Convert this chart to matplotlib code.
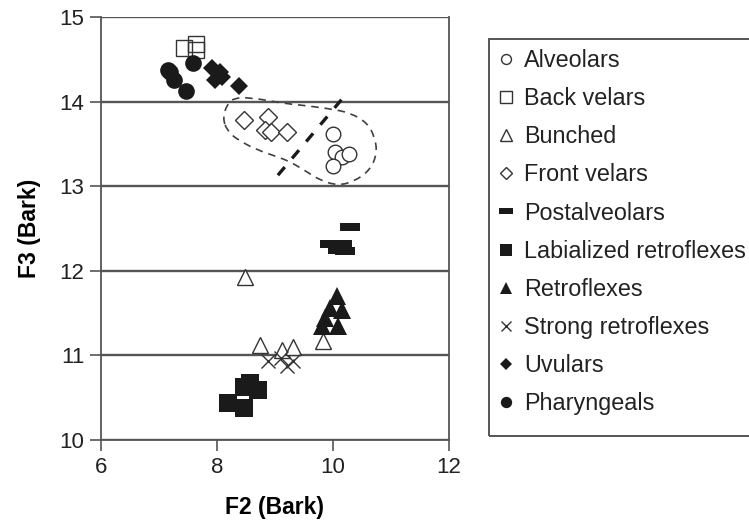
import matplotlib
matplotlib.use("Agg")
import matplotlib.pyplot as plt
from matplotlib.path import Path
from matplotlib.patches import PathPatch, Rectangle

plt.rcParams["font.family"] = ["Liberation Sans", "DejaVu Sans"]

# F2 / F3 (Bark) per class
ALV_F2 = [10.00, 10.03, 10.16, 10.28, 10.00]
ALV_F3 = [13.62, 13.40, 13.35, 13.38, 13.24]

BACKV_F2 = [7.43, 7.64, 7.64]
BACKV_F3 = [14.63, 14.68, 14.61]

BUNCH_F2 = [8.48, 8.74, 9.12, 9.31, 9.83]
BUNCH_F3 = [11.93, 11.12, 11.06, 11.10, 11.17]

FRONTV_F2 = [8.47, 8.88, 8.83, 8.93, 9.21]
FRONTV_F3 = [13.78, 13.82, 13.66, 13.64, 13.64]

POSTALV_F2 = [10.29, 9.95, 10.16, 10.21, 10.09]
POSTALV_F3 = [12.52, 12.32, 12.32, 12.23, 12.25]

LABRETRO_F2 = [8.19, 8.47, 8.71, 8.47, 8.57]
LABRETRO_F3 = [10.44, 10.63, 10.59, 10.38, 10.67]

RETRO_F2 = [10.07, 9.95, 10.16, 9.81, 10.09, 9.86]
RETRO_F3 = [11.70, 11.56, 11.54, 11.35, 11.35, 11.44]

STRONG_F2 = [8.88, 9.10, 9.21, 9.31]
STRONG_F3 = [10.93, 10.97, 10.87, 10.93]

UVUL_F2 = [7.91, 8.05, 7.97, 8.09, 8.38]
UVUL_F3 = [14.40, 14.35, 14.26, 14.29, 14.18]

PHAR_F2 = [7.19, 7.26, 7.59, 7.47, 7.16]
PHAR_F3 = [14.35, 14.26, 14.46, 14.13, 14.37]

# dashed outline around the velar / alveolar clusters, and the split line
LOOP_F2 = [8.10, 8.17, 8.28, 8.57, 9.14, 9.43, 9.90, 10.29, 10.59, 10.72, 10.76,
           10.64, 10.35, 10.07, 9.78, 9.55, 9.26, 9.03, 8.69, 8.35, 8.17]
LOOP_F3 = [13.81, 13.96, 14.04, 14.05, 13.98, 13.96, 13.92, 13.87, 13.75, 13.58, 13.39,
           13.19, 13.05, 13.01, 13.07, 13.17, 13.29, 13.35, 13.43, 13.55, 13.66]
SPLIT_F2 = [9.05, 10.24]
SPLIT_F3 = [13.13, 14.10]

XTICKS = [6, 8, 10, 12]
YTICKS = [10, 11, 12, 13, 14, 15]

INK = "#1a1a1a"
OPEN_EDGE = "#333333"
GRID = "#555555"

BAR = [(-1, -0.4), (1, -0.4), (1, 0.4), (-1, 0.4), (-1, -0.4)]

SERIES = [
    ("Alveolars", ALV_F2, ALV_F3, dict(marker="o", ms=10.5, mfc="white", mec=OPEN_EDGE, mew=1.0)),
    ("Back velars", BACKV_F2, BACKV_F3, dict(marker="s", ms=12, mfc="none", mec=OPEN_EDGE, mew=1.0)),
    ("Bunched", BUNCH_F2, BUNCH_F3, dict(marker="^", ms=12, mfc="white", mec=OPEN_EDGE, mew=1.0)),
    ("Front velars", FRONTV_F2, FRONTV_F3, dict(marker="D", ms=9, mfc="white", mec=OPEN_EDGE, mew=1.0)),
    ("Postalveolars", POSTALV_F2, POSTALV_F3, dict(marker=BAR, ms=14.5, mfc=INK, mec=INK, mew=0)),
    ("Labialized retroflexes", LABRETRO_F2, LABRETRO_F3, dict(marker="s", ms=12.5, mfc=INK, mec=INK, mew=0)),
    ("Retroflexes", RETRO_F2, RETRO_F3, dict(marker="^", ms=12.5, mfc=INK, mec=INK, mew=0)),
    ("Strong retroflexes", STRONG_F2, STRONG_F3, dict(marker="x", ms=10, mec=OPEN_EDGE, mew=1.0)),
    ("Uvulars", UVUL_F2, UVUL_F3, dict(marker="D", ms=9, mfc=INK, mec=INK, mew=0)),
    ("Pharyngeals", PHAR_F2, PHAR_F3, dict(marker="o", ms=12, mfc=INK, mec=INK, mew=0)),
]


def smooth_loop(xs, ys):
    # closed quadratic curve: midpoints on the curve, given points as controls
    n = len(xs)
    mids = [((xs[i] + xs[(i + 1) % n]) / 2, (ys[i] + ys[(i + 1) % n]) / 2) for i in range(n)]
    verts = [mids[-1]]
    codes = [Path.MOVETO]
    for i in range(n):
        verts += [(xs[i], ys[i]), mids[i]]
        codes += [Path.CURVE3, Path.CURVE3]
    return Path(verts, codes)


fig = plt.figure(figsize=(7.49, 5.22), dpi=100)
ax = fig.add_axes([0.1348, 0.1571, 0.4647, 0.8103])

ax.add_patch(PathPatch(smooth_loop(LOOP_F2, LOOP_F3), fill=False, ec="#404040",
                       lw=1.2, ls=(0, (4.5, 3.5)), zorder=1))
ax.plot(SPLIT_F2, SPLIT_F3, color=INK, lw=2.4, dashes=(3.2, 3.4), zorder=1)

for label, xs, ys, style in SERIES:
    ax.plot(xs, ys, ls="none", label=label, zorder=3, **style)

ax.set_xlim(6, 12)
ax.set_ylim(10, 15)
ax.set_xticks(XTICKS)
ax.set_yticks(YTICKS)
ax.grid(axis="y", color=GRID, lw=1.7, zorder=0)
ax.set_axisbelow(True)
for side in ["left", "right", "bottom", "top"]:
    ax.spines[side].set_color(GRID)
    ax.spines[side].set_linewidth(1.3)
ax.spines["top"].set_visible(False)
ax.tick_params(axis="both", direction="out", length=8, width=1.2, color=GRID,
               labelsize=16, labelcolor="#222222", pad=4)
ax.set_xlabel("F2 (Bark)", fontsize=16.5, fontweight="bold", labelpad=13)
ax.set_ylabel("F3 (Bark)", fontsize=16.5, fontweight="bold", labelpad=13)

# legend box runs off the right edge, so the frame is drawn separately
fig.patches.append(Rectangle((489 / 749, 1 - 436 / 522), 0.5, (436 - 39) / 522,
                             transform=fig.transFigure, fill=False,
                             ec=GRID, lw=1.4, zorder=0))
leg = fig.legend(loc="upper left", bbox_to_anchor=(489 / 749, 1 - 39.5 / 522),
                 borderaxespad=0, fontsize=16.8, markerscale=0.68, handlelength=0.7,
                 handletextpad=0.4, labelspacing=0.65, borderpad=0.4,
                 frameon=False)
for t in leg.get_texts():
    t.set_color("#222222")

fig.savefig("out.png", dpi=100)
